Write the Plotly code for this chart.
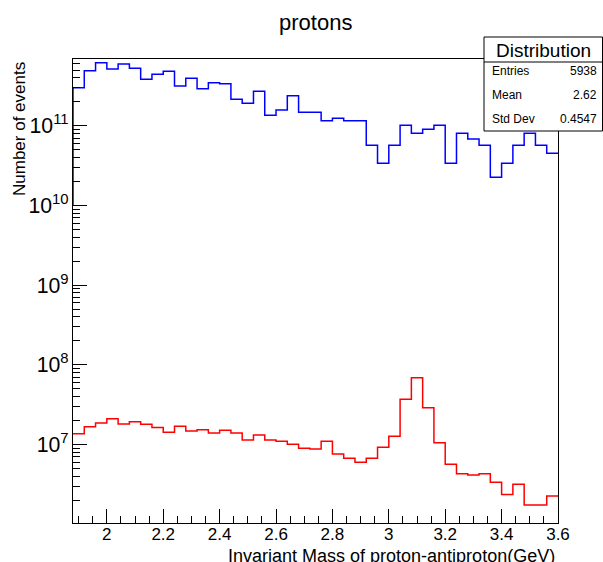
import plotly.graph_objects as go

# ---- data ----
bin_low = 1.88
bin_width = 0.04
n_bins = 43
bin_edges = [round(bin_low + i * bin_width, 4) for i in range(n_bins + 1)]

blue_counts = [3.0e11, 4.9e11, 6.17e11, 5.14e11, 5.94e11, 5.25e11, 3.82e11, 4.42e11, 4.82e11, 3.15e11,
               3.94e11, 2.91e11, 3.47e11, 3.37e11, 2.14e11, 1.91e11, 2.70e11, 1.35e11, 1.57e11, 2.38e11,
               1.47e11, 1.47e11, 1.15e11, 1.24e11, 1.15e11, 1.15e11, 5.68e10, 3.37e10, 5.68e10, 1.01e11,
               8.04e10, 9.02e10, 1.01e11, 3.37e10, 8.04e10, 6.81e10, 5.68e10, 2.25e10, 3.37e10, 5.68e10,
               8.04e10, 5.68e10, 4.51e10]
blue_baseline = 1.0e10

red_counts = [1.36e7, 1.67e7, 1.86e7, 2.11e7, 1.81e7, 1.93e7, 1.79e7, 1.64e7, 1.42e7, 1.69e7,
              1.48e7, 1.53e7, 1.39e7, 1.51e7, 1.39e7, 1.14e7, 1.32e7, 1.14e7, 1.10e7, 1.01e7,
              8.96e6, 8.79e6, 1.10e7, 7.60e6, 6.71e6, 5.98e6, 6.71e6, 9.23e6, 1.27e7, 3.69e7,
              6.89e7, 2.90e7, 1.05e7, 5.65e6, 4.31e6, 4.14e6, 4.31e6, 3.36e6, 2.35e6, 3.17e6,
              1.74e6, 1.74e6, 2.26e6]

title_text = "protons"
x_title = "Invariant Mass of proton-antiproton(GeV)"
y_title = "Number of events"
stats_name = "Distribution"
stats_labels = ["Entries", "Mean", "Std Dev"]
stats_values = ["5938", "2.62", "0.4547"]

FONT = "Liberation Sans, Arial, sans-serif"

# ---- geometry (pixels) ----
W, H = 603, 562
ML, MR, MT, MB = 73, 45, 59, 39
PW = W - ML - MR
PH = H - MT - MB


def px(xp):
    return (xp - ML) / PW


def py(yp):
    return (H - MB - yp) / PH


fig = go.Figure()

# blue histogram (step outline)
bx = [bin_edges[0]] + bin_edges
by = [blue_baseline] + blue_counts + [blue_counts[-1]]
fig.add_trace(go.Scatter(x=bx, y=by, mode="lines", line=dict(color="#0000ff", width=1.5, shape="hv"),
                         showlegend=False, hoverinfo="skip"))

# red histogram
rx = bin_edges
ry = red_counts + [red_counts[-1]]
fig.add_trace(go.Scatter(x=rx, y=ry, mode="lines", line=dict(color="#ff0000", width=1.5, shape="hv"),
                         showlegend=False, hoverinfo="skip"))

fig.update_layout(
    width=W, height=H,
    margin=dict(l=ML, r=MR, t=MT, b=MB, pad=0),
    paper_bgcolor="white", plot_bgcolor="white",
    font=dict(family=FONT, color="black", size=17),
    showlegend=False,
    xaxis=dict(
        range=[1.88, 3.6], tick0=2, dtick=0.2,
        ticks="inside", ticklen=14, tickwidth=1, tickcolor="black",
        showline=True, linecolor="black", linewidth=1, mirror=True,
        showgrid=False, zeroline=False,
        ticklabelstandoff=-4,
        tickfont=dict(size=17, family=FONT),
        minor=dict(ticks="inside", ticklen=7, dtick=0.05, tickcolor="black", showgrid=False),
    ),
    yaxis=dict(
        type="log", range=[6.015, 11.837], dtick=1,
        exponentformat="power",
        ticks="inside", ticklen=14, tickwidth=1, tickcolor="black",
        showline=True, linecolor="black", linewidth=1, mirror=True,
        showgrid=False, zeroline=False,
        tickfont=dict(size=17, family=FONT),
        minor=dict(ticks="inside", ticklen=7, dtick="D1", tickcolor="black", showgrid=False),
    ),
)

annotations = [
    dict(text=title_text, xref="paper", yref="paper", x=px((ML + W - MR) / 2), y=py(23),
         xanchor="center", yanchor="middle", showarrow=False, font=dict(size=22, family=FONT)),
    dict(text=x_title, xref="paper", yref="paper", x=px(557), y=py(556),
         xanchor="right", yanchor="middle", showarrow=False, font=dict(size=18, family=FONT)),
    dict(text=y_title, xref="paper", yref="paper", x=px(19), y=py(129),
         xanchor="center", yanchor="middle", textangle=-90, showarrow=False, font=dict(size=17, family=FONT)),
]

# stats box
bx0, bx1, by0, by1, bdiv = 484, 602.5, 37, 131, 62
shapes = [
    dict(type="rect", xref="paper", yref="paper", x0=px(bx0), x1=px(bx1), y0=py(by1), y1=py(by0),
         fillcolor="white", line=dict(color="black", width=1), layer="above"),
    dict(type="line", xref="paper", yref="paper", x0=px(bx0), x1=px(bx1), y0=py(bdiv), y1=py(bdiv),
         line=dict(color="black", width=1), layer="above"),
]
annotations.append(dict(text=stats_name, xref="paper", yref="paper", x=px((bx0 + bx1) / 2), y=py(50),
                        xanchor="center", yanchor="middle", showarrow=False, font=dict(size=19, family=FONT)))
row_y = [71, 95, 119]
for lab, val, ry_ in zip(stats_labels, stats_values, row_y):
    annotations.append(dict(text=lab, xref="paper", yref="paper", x=px(490), y=py(ry_),
                            xanchor="left", yanchor="middle", showarrow=False, font=dict(size=12, family=FONT)))
    annotations.append(dict(text=val, xref="paper", yref="paper", x=px(599), y=py(ry_),
                            xanchor="right", yanchor="middle", showarrow=False, font=dict(size=12, family=FONT)))

fig.update_layout(annotations=annotations, shapes=shapes)

fig.write_html("out.html")
